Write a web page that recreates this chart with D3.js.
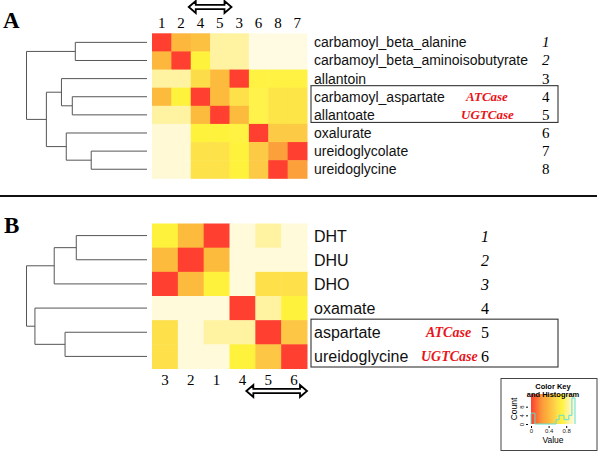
<!DOCTYPE html>
<html><head><meta charset="utf-8">
<script src="https://cdn.jsdelivr.net/npm/d3@7"></script>
<style>body{margin:0;background:#fff}svg{display:block}</style>
</head><body>
<script>
// ---------- Panel A data ----------
const colsA = ["1","2","4","5","3","6","8","7"];
const rowsA = ["carbamoyl_beta_alanine","carbamoyl_beta_aminoisobutyrate","allantoin","carbamoyl_aspartate","allantoate","oxalurate","ureidoglycolate","ureidoglycine"];
const numsA = ["1","2","3","4","5","6","7","8"];
const italicA = [true,true,false,false,false,false,false,false];
const enzymesA = ["","","","ATCase","UGTCase","","",""];
const valuesA = [
  [0.00,0.40,0.45,0.85,0.85,1.00,1.00,1.00],
  [0.40,0.00,0.70,0.85,0.85,1.00,1.00,1.00],
  [0.85,0.85,0.58,0.42,0.00,0.71,0.71,0.71],
  [0.42,0.70,0.00,0.42,0.60,0.72,0.62,0.62],
  [0.85,0.85,0.42,0.00,0.42,0.72,0.62,0.62],
  [0.97,0.97,0.70,0.70,0.71,0.00,0.50,0.50],
  [0.97,0.97,0.61,0.61,0.70,0.50,0.28,0.00],
  [0.97,0.97,0.61,0.61,0.70,0.50,0.00,0.28]
];
// dendrogram: leaves are row indices, h = merge height (0..1)
const treeA = {h:1.00, c:[
  {h:0.595, c:[0,1]},
  {h:0.835, c:[
    {h:0.71, c:[2,{h:0.62, c:[3,4]}]},
    {h:0.67, c:[5,{h:0.463, c:[6,7]}]}
  ]}
]};

// ---------- Panel B data ----------
const colsB = ["3","2","1","4","5","6"];
const rowsB = ["DHT","DHU","DHO","oxamate","aspartate","ureidoglycine"];
const numsB = ["1","2","3","4","5","6"];
const italicB = [true,true,true,false,false,false];
const enzymesB = ["","","","","ATCase","UGTCase"];
const valuesB = [
  [0.70,0.42,0.00,0.98,0.85,0.98],
  [0.42,0.00,0.42,0.98,0.98,0.98],
  [0.00,0.42,0.70,0.98,0.60,0.60],
  [0.98,0.98,0.98,0.00,0.85,0.70],
  [0.60,0.98,0.85,0.85,0.00,0.48],
  [0.60,0.98,0.98,0.70,0.48,0.00]
];
const treeB = {h:1.00, c:[
  {h:0.77, c:[{h:0.587, c:[0,1]},2]},
  {h:0.93, c:[3,{h:0.68, c:[4,5]}]}
]};

// ---------- Color key histogram ----------
const keyBinEdges = [0,0.09,0.57,0.64,0.75,0.86,0.93,1.0];
const keyBinCounts = [5,0,2,4,2,4,12];
const keyXTicks = [0,0.4,0.8];
const keyYTicks = [0,4,8];

// ---------- drawing ----------
const W = 600, H = 452;
const svg = d3.select("body").append("svg").attr("width",W).attr("height",H);
const SANS = "'Liberation Sans', Arial, Helvetica, sans-serif";
const SERIF = "'Liberation Serif', 'Times New Roman', Times, serif";

const color = d3.scaleLinear()
  .domain([0, 0.25, 0.4, 0.5, 0.6, 0.7, 0.85, 1])
  .range(["#ff3f2f","#fb9a3a","#fdb73c","#fdca46","#fde04a","#fff23c","#fff3a2","#fffbe3"])
  .clamp(true);

function drawTree(g, node, xS, yS) {
  if (typeof node === "number") return {x: xS(0), y: yS(node)};
  const a = drawTree(g, node.c[0], xS, yS);
  const b = drawTree(g, node.c[1], xS, yS);
  const x = xS(node.h);
  g.append("path")
    .attr("d", `M${a.x},${a.y}H${x}V${b.y}H${b.x}`)
    .attr("fill","none").attr("stroke","#555").attr("stroke-width",1);
  return {x, y:(a.y+b.y)/2};
}

function arrow(x0, x1, yc) {
  const sh = 2.2, hh = 6, hl = 7;
  const d = `M${x0},${yc} L${x0+hl},${yc-hh} L${x0+hl},${yc-sh} L${x1-hl},${yc-sh} L${x1-hl},${yc-hh} L${x1},${yc} L${x1-hl},${yc+hh} L${x1-hl},${yc+sh} L${x0+hl},${yc+sh} L${x0+hl},${yc+hh} Z`;
  svg.append("path").attr("d",d).attr("fill","#fff").attr("stroke","#000").attr("stroke-width",1.8).attr("stroke-linejoin","miter");
}

function panel(cfg) {
  const x = d3.scaleBand().domain(cfg.cols).range([152,307]);
  const y = d3.scaleBand().domain(cfg.rows).range(cfg.yRange);
  const g = svg.append("g");
  // cells
  cfg.values.forEach((row,i) => row.forEach((v,j) => {
    g.append("rect")
      .attr("x", x(cfg.cols[j])).attr("y", y(cfg.rows[i]))
      .attr("width", x.bandwidth()+0.5).attr("height", y.bandwidth()+0.5)
      .attr("fill", color(v));
  }));
  // column labels
  g.selectAll(".cl").data(cfg.cols).enter().append("text")
    .attr("x", d => x(d)+x.bandwidth()/2).attr("y", cfg.colLabelY)
    .attr("text-anchor","middle").attr("font-family",SERIF).attr("font-size",15)
    .text(d => d);
  // row labels
  g.selectAll(".rl").data(cfg.rows).enter().append("text")
    .attr("x", 314).attr("y", d => y(d)+y.bandwidth()/2+cfg.baseOff)
    .attr("font-family",SANS).attr("font-size",cfg.rowFont).attr("fill","#111")
    .text(d => d);
  // numbers
  g.selectAll(".nl").data(cfg.nums).enter().append("text")
    .attr("x", cfg.numX).attr("y", (d,i) => y(cfg.rows[i])+y.bandwidth()/2+cfg.numOff)
    .attr("font-family",SERIF).attr("font-size",cfg.numFont)
    .attr("font-style",(d,i)=> cfg.italic[i] ? "italic" : "normal")
    .text(d => d);
  // enzymes
  g.selectAll(".en").data(cfg.enz).enter().append("text")
    .attr("x", (d,i) => cfg.enzX[d] || 0).attr("y", (d,i) => y(cfg.rows[i])+y.bandwidth()/2+4.5)
    .attr("font-family",SERIF).attr("font-size",cfg.enzFont)
    .attr("font-weight","bold").attr("font-style","italic").attr("fill","#e8141a")
    .text(d => d);
  // box
  const r0 = cfg.rows[cfg.boxRows[0]], r1 = cfg.rows[cfg.boxRows[1]];
  g.append("rect").attr("x",311).attr("y",y(r0)+cfg.boxPad[0])
    .attr("width",247).attr("height",y(r1)+y.bandwidth()-y(r0)+cfg.boxPad[1])
    .attr("fill","none").attr("stroke","#333").attr("stroke-width",1.1);
  // dendrogram
  const tx = d3.scaleLinear().domain([0,1]).range([147,26.5]);
  const ty = i => y(cfg.rows[i]) + y.bandwidth()/2;
  drawTree(svg.append("g"), cfg.tree, tx, ty);
  // panel letter
  svg.append("text").attr("x",cfg.letterX).attr("y",cfg.letterY)
    .attr("font-family",SERIF).attr("font-weight","bold").attr("font-size",23)
    .text(cfg.letter);
  return x;
}

const xA = panel({cols:colsA, rows:rowsA, nums:numsA, italic:italicA, values:valuesA, enz:enzymesA,
  enzX:{"ATCase":466,"UGTCase":461}, enzFont:13, yRange:[33.3,178.3], colLabelY:28, baseOff:5, rowFont:14,
  numX:542, numFont:15, numOff:5, boxRows:[3,4], boxPad:[-2,0.5], tree:treeA, letter:"A", letterX:3, letterY:28});

const xB = panel({cols:colsB, rows:rowsB, nums:numsB, italic:italicB, values:valuesB, enz:enzymesB,
  enzX:{"ATCase":426,"UGTCase":421}, enzFont:14, yRange:[223.5,368.5], colLabelY:385, baseOff:6, rowFont:16,
  numX:481, numFont:16, numOff:6, boxRows:[4,5], boxPad:[-1,-0.5], tree:treeB, letter:"B", letterX:4, letterY:233});

// arrows
arrow(xA("4")-2, xA("5")+xA.bandwidth()+2, 7);
arrow(xB("5")-9, xB("6")+xB.bandwidth()+0, 391);

// divider line
svg.append("line").attr("x1",0).attr("x2",597).attr("y1",196).attr("y2",196)
  .attr("stroke","#111").attr("stroke-width",2.2);

// ---------- color key ----------
const key = svg.append("g");
key.append("rect").attr("x",501).attr("y",378.5).attr("width",96).attr("height",72)
  .attr("fill","#fff").attr("stroke","#444").attr("stroke-width",1);
const kx = d3.scaleLinear().domain([0,1]).range([531,575]);
const ky = d3.scaleLinear().domain([0,12]).range([424,398]);
const defs = svg.append("defs");
const grad = defs.append("linearGradient").attr("id","kg").attr("x1","0%").attr("x2","100%");
d3.range(0,1.0001,0.05).forEach(t => grad.append("stop").attr("offset",(t*100)+"%").attr("stop-color",color(t)));
key.append("rect").attr("x",kx(0)).attr("y",394).attr("width",kx(1)-kx(0)).attr("height",30)
  .attr("fill","url(#kg)");
// histogram step line
let hd = `M${kx(keyBinEdges[0])},${ky(0)}`;
keyBinCounts.forEach((c,i) => { hd += `V${ky(c)}H${kx(keyBinEdges[i+1])}`; });
hd += `V${ky(0)}`;
key.append("path").attr("d",hd).attr("fill","none").attr("stroke","#5fe0d0").attr("stroke-width",1);
// axes
const ax = key.append("g").attr("transform","translate(0,426)")
  .call(d3.axisBottom(kx).tickValues(keyXTicks).tickSize(2).tickPadding(1).tickFormat(d3.format("")));
ax.select(".domain").remove();
ax.selectAll("text").attr("font-size",6).attr("font-family",SANS).attr("fill","#222");
const ay = key.append("g").attr("transform","translate(528,0)")
  .call(d3.axisLeft(ky).tickValues(keyYTicks).tickSize(2).tickPadding(1));
ay.select(".domain").remove();
ay.selectAll("text").attr("font-size",6).attr("font-family",SANS).attr("fill","#222")
  .attr("text-anchor","middle").attr("transform","rotate(-90)")
  .attr("x", 0).attr("y", -4).attr("dy","0");
key.append("text").attr("x",553).attr("y",389).attr("text-anchor","middle")
  .attr("font-family",SANS).attr("font-size",7.5).attr("font-weight","bold").text("Color Key");
key.append("text").attr("x",553).attr("y",397).attr("text-anchor","middle")
  .attr("font-family",SANS).attr("font-size",7.5).attr("font-weight","bold").text("and Histogram");
key.append("text").attr("transform","translate(517,409) rotate(-90)").attr("text-anchor","middle")
  .attr("font-family",SANS).attr("font-size",8.5).text("Count");
key.append("text").attr("x",553).attr("y",443).attr("text-anchor","middle")
  .attr("font-family",SANS).attr("font-size",8.5).text("Value");
</script>
</body></html>
